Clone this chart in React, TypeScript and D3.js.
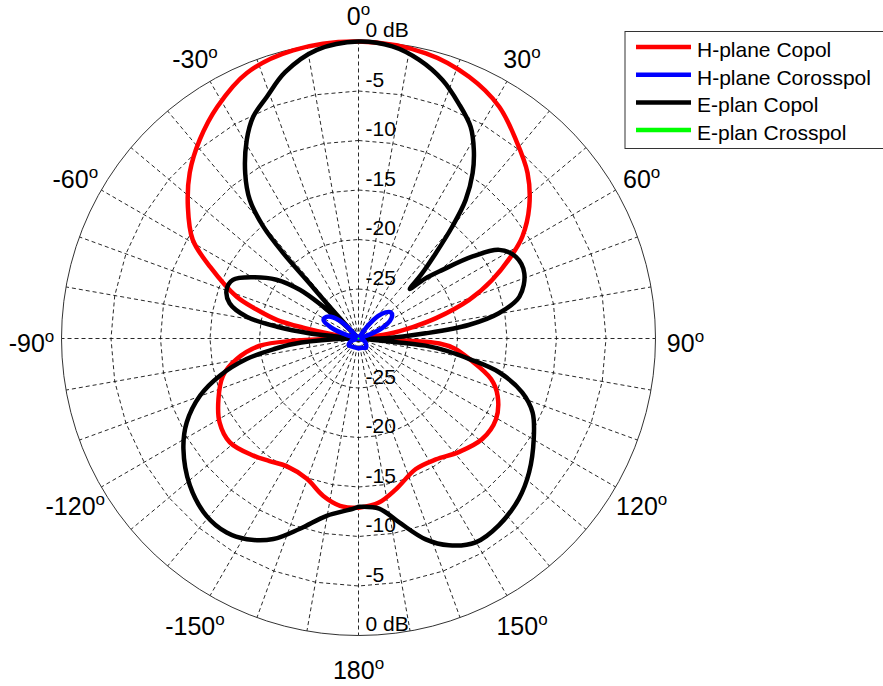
import React from 'react';
import * as d3 from 'd3';

const W = 883;
const H = 686;
const CX = 358.5;
const CY = 338.5;
const R = 297;

// ---- data (angle in degrees: 0 at top, clockwise; level in dB) ----
const hCopolAngle = [-180, -173.7, -167.4, -159.8, -150.6, -144, -138.1, -128.9, -121.2, -113.3, -105.4, -99.6, -94.2, -92, -90.5, -89, -84, -81, -79, -77.2, -74, -71.1, -64.3, -59.2, -52.4, -45.5, -38.6, -31.4, -22.8, -12.8, 0, 13.3, 22.9, 31.2, 38.4, 45.6, 52.3, 58.1, 61.7, 66.4, 70.8, 75.3, 78.1, 81.3, 84, 89.5, 91, 92.5, 93.5, 96, 100.5, 107, 112.4, 120.4, 129.1, 138.6, 147.4, 156.3, 166.1, 172.9, 180];
const hCopolDb = [-12.9, -13.0, -13.7, -14.9, -15.2, -14.7, -14.1, -13.3, -13.6, -14.6, -15.8, -17.5, -20.0, -23.5, -28, -30, -30, -27.5, -24.5, -21.6, -19.2, -17.0, -13.4, -10.5, -8.25, -6.1, -4.3, -2.6, -0.9, -0.15, 0, -0.4, -1.3, -2.6, -4.4, -6.1, -8.2, -10.5, -12.5, -15.3, -18.2, -21.9, -24.4, -27, -30, -30, -28, -25, -21.8, -20.2, -18.6, -16.0, -14.8, -13.9, -13.9, -14.7, -15.5, -15.6, -14.3, -13.3, -12.9];

const hCrossAngle = [-180, -150, -125, -110, -95, -80, -74, -68, -62, -56, -50, -45, -40, 30, 36, 41, 46, 51, 56, 61, 66, 71, 76, 100, 115, 140, 160, 180];
const hCrossDb = [-29.0, -29.0, -28.8, -29.2, -30, -30, -28.8, -27.0, -26.0, -26.1, -26.7, -27.8, -30, -30, -28.5, -27, -26.2, -25.8, -25.9, -26.4, -27.4, -29, -30, -30, -29.3, -28.8, -29.0, -29.0];

const eCopolAngle = [-180, -178.3, -169.8, -162.9, -157, -150.9, -145.8, -139.4, -131.1, -122.2, -116, -109.8, -105, -100.4, -97, -94.8, -92, -90, -86, -84.5, -84, -81.8, -79, -74.7, -69.8, -65, -59.8, -54.4, -50.3, -47.9, -45.5, -44, -43, -42.2, -41.6, -41.4, -40.4, -38.1, -34.5, -29.4, -25.4, -20.8, -15.4, -8.2, 0, 6.6, 12.3, 18, 23.1, 27.9, 31.5, 34.6, 37.7, 40, 42.2, 44.5, 46, 48, 50.7, 54.3, 57.8, 62.5, 68.5, 75.4, 79.8, 83, 85.6, 89.6, 92, 94, 95.5, 96.1, 98, 100.5, 103.5, 108.2, 113, 119.8, 128.1, 135, 143.1, 150.1, 156.4, 161.5, 167.6, 173.1, 180];
const eCopolDb = [-13.0, -12.8, -11.8, -9.9, -8.0, -6.8, -6.3, -6.4, -7.4, -9.1, -10.7, -13.0, -15.5, -18.5, -21.5, -23.4, -27.5, -30, -30, -27.5, -25.1, -21.7, -18.5, -16.5, -15.8, -16.0, -17.7, -19.8, -22.3, -25.2, -28, -30, -30, -26, -22.1, -18.5, -15.2, -12.2, -9.8, -7.0, -5.2, -3.9, -2.1, -0.55, 0, -0.3, -1.2, -2.55, -4.2, -5.8, -7.7, -9.7, -12.3, -15.3, -18.4, -21, -22.8, -21, -19.1, -15.8, -13.2, -12.1, -12.0, -13.2, -15.6, -18.8, -23.2, -27.3, -30, -30, -27.5, -23.2, -21, -18.6, -15.4, -12.6, -10.9, -9.6, -8.1, -7.1, -6.4, -6.25, -7.2, -8.6, -11.0, -12.7, -13.0];

const eCrossAngle = [-180, -90, 0, 90, 180];
const eCrossDb = [-32, -32, -32, -32, -32];

const seriesNames = ['H-plane Copol', 'H-plane Corosspol', 'E-plan Copol', 'E-plan Crosspol'];
const seriesColors = ['#ff0000', '#0000ff', '#000000', '#00ff00'];

const dbTicks = [0, -5, -10, -15, -20, -25];
const angleTicks = [0, 30, 60, 90, 120, 150, 180, -150, -120, -90, -60, -30];
const spokeStep = 10;
const dbMin = -30;
const dbMax = 0;

const FONT = 'Liberation Sans, Arial, Helvetica, sans-serif';

export default function App() {
  const r = d3.scaleLinear().domain([dbMin, dbMax]).range([0, R]).clamp(true);
  const rad = (deg: number) => (deg * Math.PI) / 180;
  const px = (deg: number, rr: number) => CX + rr * Math.sin(rad(deg));
  const py = (deg: number, rr: number) => CY - rr * Math.cos(rad(deg));

  const line = d3
    .lineRadial<[number, number]>()
    .angle((d) => rad(d[0]))
    .radius((d) => r(d[1]))
    .curve(d3.curveCatmullRom.alpha(0.5));

  const zip = (a: number[], b: number[]) => a.map((v, i) => [v, b[i]] as [number, number]);

  const series = [
    { data: zip(hCopolAngle, hCopolDb), idx: 0 },
    { data: zip(eCopolAngle, eCopolDb), idx: 2 },
    { data: zip(hCrossAngle, hCrossDb), idx: 1 },
    { data: zip(eCrossAngle, eCrossDb), idx: 3 },
  ];

  const spokes = d3.range(0, 360, spokeStep);
  const ringPolygon = (rr: number, n: number) => {
    const pts = d3.range(0, n + 1).map((i) => {
      const a = (i * 360) / n;
      return `${px(a, rr).toFixed(2)},${py(a, rr).toFixed(2)}`;
    });
    return 'M' + pts.join('L') + 'Z';
  };

  const legendX = 625;
  const legendY = 31.5;
  const rowY0 = 47;
  const rowStep = 27.7;

  return (
    <svg
      width={W}
      height={H}
      viewBox={`0 0 ${W} ${H}`}
      style={{ position: 'absolute', left: 0, top: 0, background: '#fff' }}
      fontFamily={FONT}
    >
      <rect x={0} y={0} width={W} height={H} fill="#fff" />
      {/* grid spokes */}
      <g stroke="#111" strokeWidth={0.9} strokeDasharray="4,3" fill="none">
        {spokes.map((a) => (
          <line key={'s' + a} x1={CX} y1={CY} x2={px(a, R)} y2={py(a, R)} />
        ))}
        {dbTicks
          .filter((d) => d !== dbMax)
          .map((d) => (
            <path key={'c' + d} d={ringPolygon(r(d), 36)} />
          ))}
      </g>
      {/* outer circle */}
      <path d={ringPolygon(R, 100)} fill="none" stroke="#333" strokeWidth={1} />

      {/* ring labels */}
      <g fontSize={21} fill="#000">
        {dbTicks.map((d) => (
          <text key={'t' + d} x={CX + 7} y={CY - r(d) - 4.5}>
            {d === 0 ? '0 dB' : String(d)}
          </text>
        ))}
        {dbTicks.map((d) => (
          <text key={'b' + d} x={CX + 7} y={CY + r(d) - 4.5}>
            {d === 0 ? '0 dB' : String(d)}
          </text>
        ))}
      </g>

      {/* angle labels */}
      <g fontSize={25} fill="#000" textAnchor="middle">
        {angleTicks.map((a) => (
          <text key={'a' + a} x={px(a, 327)} y={py(a, 327) + 13}>
            {String(a)}
            <tspan fontSize={17} dy={-10}>o</tspan>
          </text>
        ))}
      </g>

      {/* curves */}
      <g transform={`translate(${CX},${CY})`} fill="none" strokeLinejoin="round">
        {series.map((s) => (
          <path
            key={'p' + s.idx}
            d={line(s.data) || ''}
            stroke={seriesColors[s.idx]}
            strokeWidth={s.idx === 3 ? 2 : 4.5}
            strokeLinecap="round"
          />
        ))}
      </g>

      {/* legend */}
      <rect x={legendX} y={legendY} width={270} height={117} fill="#fff" stroke="#333" strokeWidth={1} />
      {seriesNames.map((name, i) => {
        const y = rowY0 + i * rowStep;
        return (
          <g key={'l' + i}>
            <line x1={636} x2={691} y1={y} y2={y} stroke={seriesColors[i]} strokeWidth={4.5} />
            <text x={697} y={y + 10} fontSize={21} fill="#000">
              {name}
            </text>
          </g>
        );
      })}
    </svg>
  );
}
